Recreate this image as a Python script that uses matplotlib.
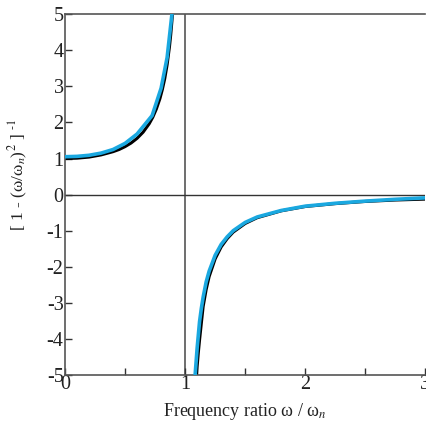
import matplotlib
matplotlib.use('Agg')
import matplotlib.pyplot as plt
from matplotlib.ticker import MultipleLocator

# amplitude factor 1 / (1 - r^2) read at sampled frequency ratios
r_low = [0.0, 0.1, 0.2, 0.3, 0.4, 0.45, 0.5, 0.55, 0.6, 0.65, 0.7, 0.73, 0.76, 0.79,
         0.81, 0.83, 0.85, 0.87, 0.88, 0.89, 0.9, 0.91]
f_low = [1.0, 1.01, 1.04, 1.10, 1.19, 1.25, 1.33, 1.43, 1.56, 1.73, 1.96, 2.14, 2.37,
         2.66, 2.91, 3.21, 3.60, 4.11, 4.43, 4.81, 5.26, 5.82]
r_high = [1.09, 1.1, 1.11, 1.12, 1.135, 1.15, 1.175, 1.2, 1.25, 1.3, 1.35, 1.4, 1.5,
          1.6, 1.8, 2.0, 2.25, 2.5, 2.75, 3.0]
f_high = [-5.3, -4.76, -4.37, -4.03, -3.56, -3.10, -2.63, -2.27, -1.78, -1.45, -1.22,
          -1.04, -0.80, -0.64, -0.45, -0.33, -0.25, -0.19, -0.15, -0.125]

# measured curve (blue)
m_low_r = [0.0, 0.1, 0.2, 0.3, 0.4, 0.5, 0.6, 0.725, 0.8, 0.85, 0.89]
m_low_f = [1.05, 1.06, 1.09, 1.15, 1.25, 1.42, 1.68, 2.19, 2.95, 3.8, 5.0]
m_high_r = [1.083, 1.1, 1.12, 1.135, 1.15, 1.175, 1.2, 1.25, 1.3, 1.35, 1.4, 1.5, 1.6,
            1.8, 2.0, 2.25, 2.5, 2.75, 3.0]
m_high_f = [-5.0, -4.25, -3.52, -3.15, -2.84, -2.42, -2.12, -1.68, -1.38, -1.17, -1.0,
            -0.77, -0.62, -0.44, -0.32, -0.24, -0.18, -0.13, -0.09]

plt.rcParams['font.family'] = ['Liberation Serif', 'DejaVu Serif']
plt.rcParams['mathtext.fontset'] = 'stix'
plt.rcParams['axes.unicode_minus'] = False

fig = plt.figure(figsize=(4.26, 4.25), dpi=100)
ax = fig.add_axes([0.1526, 0.1176, 0.846, 0.849])

ax.axvline(1.0, color='#555555', lw=1.2, zorder=1)
ax.axhline(0.0, color='#333333', lw=1.0, zorder=1)

ax.plot(r_low, f_low, color='black', lw=2.2, zorder=2)
ax.plot(r_high, f_high, color='black', lw=2.2, zorder=2)
ax.plot(m_low_r, m_low_f, color='#1aa8e0', lw=2.6, zorder=3)
ax.plot(m_high_r, m_high_f, color='#1aa8e0', lw=2.6, zorder=3)

ax.set_xlim(0, 3)
ax.set_ylim(-5, 5)
ax.xaxis.set_major_locator(MultipleLocator(1))
ax.xaxis.set_minor_locator(MultipleLocator(0.5))
ax.yaxis.set_major_locator(MultipleLocator(1))
ax.tick_params(which='both', direction='in', length=5, width=1, color='#333333',
               labelsize=14.5, pad=1, labelcolor='#222222')
ax.tick_params(axis='y', which='minor', length=0)
ax.tick_params(axis='x', which='major', pad=0)

for side in ['left', 'bottom', 'top']:
    ax.spines[side].set_color('#555555')
    ax.spines[side].set_linewidth(1.2)
ax.spines['right'].set_visible(False)

ax.set_xlabel('Frequency ratio ω / ω$_n$', fontsize=13, color='#222222')
ax.set_ylabel(r'[ 1 - (ω/ω$_n$)$^2$ ] $^{\text{-}1}$', fontsize=12.5, color='#222222')
ax.xaxis.set_label_coords(0.5, -0.072)
ax.yaxis.set_label_coords(-0.098, 0.554)

fig.savefig('out.png', dpi=100)
